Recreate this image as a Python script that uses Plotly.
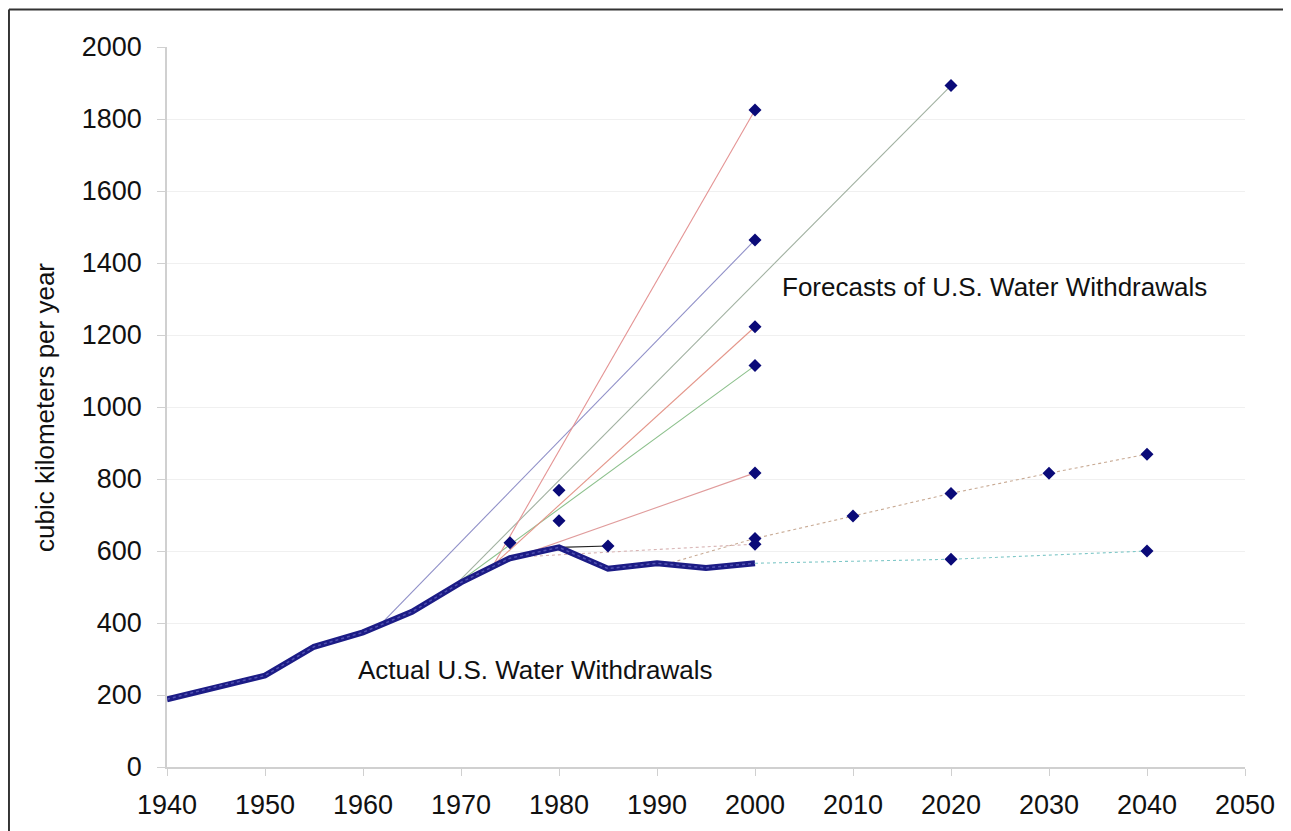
import plotly.graph_objects as go

# Actual U.S. withdrawals (km^3/yr)
actual_years = [1940, 1945, 1950, 1955, 1960, 1965, 1970, 1975, 1980, 1985, 1990, 1995, 2000]
actual_vals = [188, 223, 254, 334, 374, 431, 513, 580, 610, 551, 566, 553, 566]

# Forecast lines (start point on actual curve -> forecast points)
fc_red1_x = [1973.3, 2000]; fc_red1_y = [561, 1825]
fc_blue_x = [1961.5, 2000]; fc_blue_y = [388, 1464]
fc_gray_x = [1969.5, 2020]; fc_gray_y = [508, 1893]
fc_red2_x = [1973.3, 2000]; fc_red2_y = [561, 1223]
fc_green_x = [1969.5, 2000]; fc_green_y = [508, 1115]
fc_red3_x = [1973.3, 2000]; fc_red3_y = [561, 817]
fc_pink_x = [1975, 2000]; fc_pink_y = [582, 619]
fc_black_x = [1980, 1985]; fc_black_y = [610, 614]
fc_tan_x = [1991.5, 2000, 2010, 2020, 2030, 2040]; fc_tan_y = [568, 635, 697, 760, 816, 869]
fc_teal_x = [2000, 2020, 2040]; fc_teal_y = [566, 577, 600]
pt_x = [1975, 1980, 1980]; pt_y = [623, 769, 684]

NAVY = "#0a0a78"
fig = go.Figure()

def fline(x, y, color, dash="solid", marker_idx=None):
    fig.add_trace(go.Scatter(x=x, y=y, mode="lines", line=dict(color=color, width=1.1, dash=dash),
                             hoverinfo="skip", showlegend=False))
    idx = marker_idx if marker_idx is not None else [len(x) - 1]
    fig.add_trace(go.Scatter(x=[x[i] for i in idx], y=[y[i] for i in idx], mode="markers",
                             marker=dict(symbol="diamond", size=10, color=NAVY), showlegend=False))

fline(fc_blue_x, fc_blue_y, "#9090c8")
fline(fc_gray_x, fc_gray_y, "#a0b0a0")
fline(fc_green_x, fc_green_y, "#8cc08c")
fline(fc_red1_x, fc_red1_y, "#e49494")
fline(fc_red2_x, fc_red2_y, "#e4968a")
fline(fc_red3_x, fc_red3_y, "#e09c9c")
fline(fc_pink_x, fc_pink_y, "#d8b4b4", dash="dot")
fline(fc_tan_x, fc_tan_y, "#c8aa94", dash="dot", marker_idx=[1, 2, 3, 4, 5])
fline(fc_teal_x, fc_teal_y, "#80c8c8", dash="dot", marker_idx=[1, 2])
fline(fc_black_x, fc_black_y, "#222222")

fig.add_trace(go.Scatter(x=pt_x, y=pt_y, mode="markers",
                         marker=dict(symbol="diamond", size=10, color=NAVY), showlegend=False))

fig.add_trace(go.Scatter(x=actual_years, y=actual_vals, mode="lines",
                         line=dict(color="#1c1c86", width=6), showlegend=False))
fig.add_trace(go.Scatter(x=actual_years, y=actual_vals, mode="lines",
                         line=dict(color="#5050b0", width=1.5, dash="dot"), showlegend=False))

fig.add_annotation(x=2002.6, y=1333, text="Forecasts of U.S. Water Withdrawals", showarrow=False,
                   xanchor="left", yanchor="middle", font=dict(size=26, color="#111"))
fig.add_annotation(x=1959.3, y=269, text="Actual U.S. Water Withdrawals", showarrow=False,
                   xanchor="left", yanchor="middle", font=dict(size=26, color="#111"))
fig.add_annotation(xref="paper", yref="paper", x=-0.1132, y=0.5, text="cubic kilometers per year",
                   textangle=-90, showarrow=False, xanchor="center", yanchor="middle",
                   font=dict(size=26, color="#111"))

# frame lines (top and left)
fig.add_shape(type="line", xref="paper", yref="paper", x0=-0.1466, x1=1.06, y0=1.0521, y1=1.0521,
              line=dict(color="#333", width=2))
fig.add_shape(type="line", xref="paper", yref="paper", x0=-0.1466, x1=-0.1466, y0=1.0521, y1=-0.2,
              line=dict(color="#333", width=2))

fig.update_layout(
    width=1291, height=831,
    margin=dict(l=159, r=54, t=39, b=72),
    paper_bgcolor="white", plot_bgcolor="white",
    font=dict(family="Liberation Sans, Arial, sans-serif", color="#111"),
    xaxis=dict(range=[1940, 2050], tickvals=list(range(1940, 2051, 10)), showgrid=False,
               showline=True, linecolor="#d0d0d0", linewidth=1.5, ticks="outside", ticklen=7,
               tickcolor="#d0d0d0", tickfont=dict(size=27), zeroline=False, ticklabelstandoff=6),
    yaxis=dict(range=[0, 2000], tickvals=list(range(0, 2001, 200)), showgrid=True, gridcolor="#f0f0f0",
               showline=True, linecolor="#d0d0d0", linewidth=1.5, ticks="outside", ticklen=8,
               tickcolor="#d0d0d0", tickfont=dict(size=27), zeroline=False, ticklabelstandoff=10),
)

fig.write_html("out.html")
